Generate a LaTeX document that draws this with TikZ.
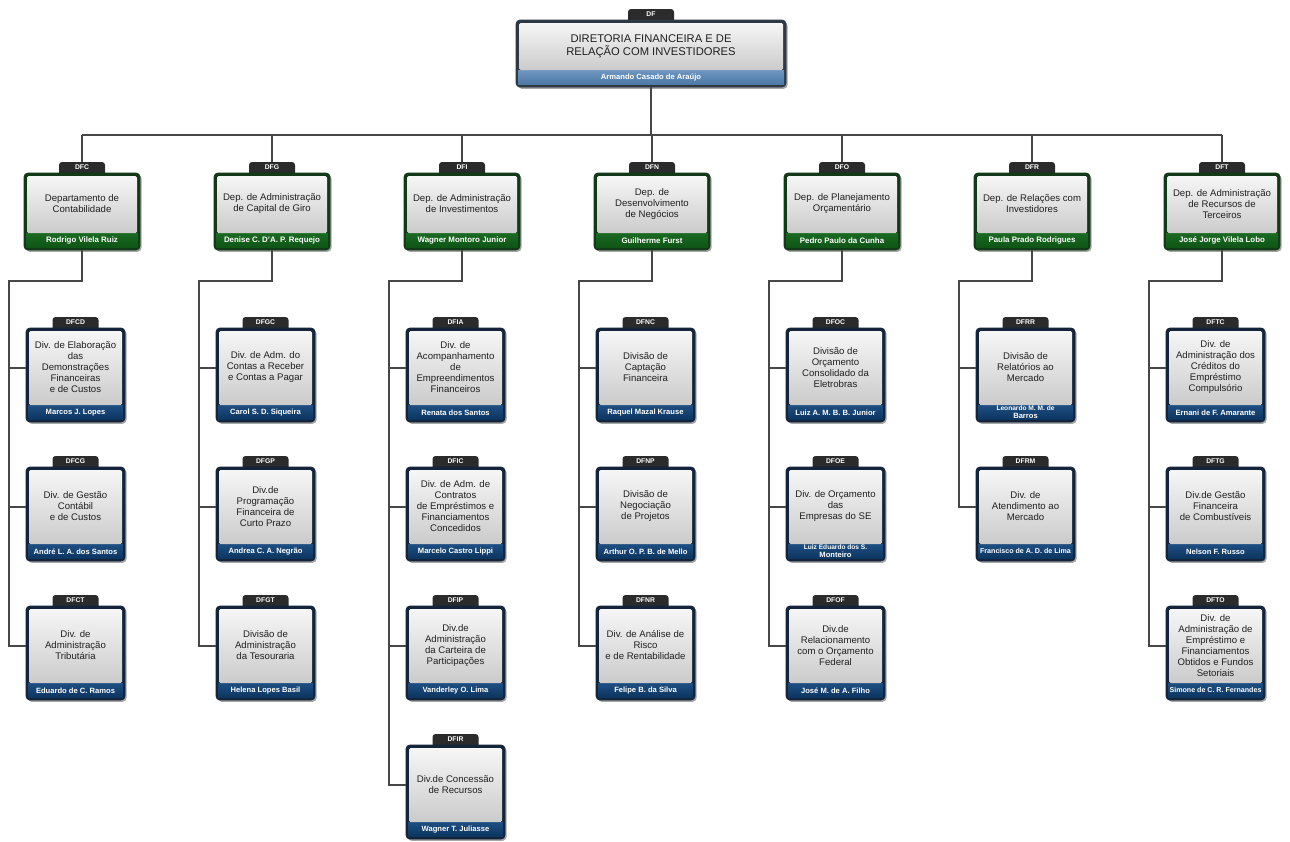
\documentclass[tikz,border=0pt]{standalone}
\usepackage{fontspec}
\setmainfont{Liberation Sans}
\usetikzlibrary{calc}
\definecolor{paneltop}{HTML}{F6F6F6}
\definecolor{panelbot}{HTML}{CBCBCB}
\definecolor{tabcol}{HTML}{2B2B2B}
\definecolor{textcol}{HTML}{202020}
\definecolor{linecol}{HTML}{474747}
\definecolor{dv-border}{HTML}{14243A}
\definecolor{dv-bandtop}{HTML}{1E4F82}
\definecolor{dv-bandbot}{HTML}{0C3560}
\definecolor{dp-border}{HTML}{133A18}
\definecolor{dp-bandtop}{HTML}{1A6A22}
\definecolor{dp-bandbot}{HTML}{0F5516}
\definecolor{tp-border}{HTML}{2E3944}
\definecolor{tp-bandtop}{HTML}{6E96C1}
\definecolor{tp-bandbot}{HTML}{4D79A6}
\tikzset{
  boxnode/.style={rectangle, draw=none, inner sep=0pt, outer sep=0pt},
  shadowfill/.style={fill=black, fill opacity=0.35},
  tablabel/.style={rectangle, inner sep=0pt, minimum width=46pt, minimum height=11pt,
    text=white, font=\bfseries\fontsize{6.8}{6.8}\selectfont},
  dv-text/.style={align=center, inner sep=0pt, text=textcol, font=\fontsize{9.6}{11}\selectfont},
  dp-text/.style={dv-text},
  tp-text/.style={align=center, inner sep=0pt, text=textcol, font=\fontsize{11.2}{13}\selectfont},
  dv-person/.style={align=center, inner sep=0pt, text=white, font=\bfseries\fontsize{7.6}{7.6}\selectfont},
  dp-person/.style={dv-person, font=\bfseries\fontsize{7.9}{7.9}\selectfont},
  tp-person/.style={dv-person},
  conn/.style={draw=linecol, line width=1.3pt},
}
% #1 name, #2 kind, #3 cx, #4 top, #5 width, #6 height, #7 tab, #8 text, #9 person
\newcommand\orgbox[9]{%
  \node[boxnode, minimum width=#5pt, minimum height=#6pt, anchor=north] (#1) at (#3,#4) {};
  \fill[shadowfill, rounded corners=4pt] ([shift={(1.6pt,-1.8pt)}]#1.south west) rectangle ([shift={(1.6pt,-1.8pt)}]#1.north east);
  \fill[tabcol, rounded corners=3pt] ([shift={(-23pt,-6pt)}]#1.north) rectangle ([shift={(23pt,11pt)}]#1.north);
  \filldraw[fill=#2-border, draw=#2-border, line width=0.8pt, rounded corners=4pt] (#1.south west) rectangle (#1.north east);
  \shade[top color=#2-bandtop, bottom color=#2-bandbot] ([shift={(2pt,2.5pt)}]#1.south west) rectangle ([shift={(-2pt,17pt)}]#1.south east);
  \shade[top color=paneltop, bottom color=panelbot, rounded corners=1.5pt] ([shift={(3pt,-3pt)}]#1.north west) rectangle ([shift={(-3pt,17pt)}]#1.south east);
  \node[tablabel] (#1-tab) at ([yshift=5.5pt]#1.north) {#7};
  \node[#2-text] (#1-text) at ([yshift=7.5pt]#1.center) {#8};
  \node[#2-person] (#1-person) at ([yshift=9.7pt]#1.south) {#9};
}
\newcommand\deptbox[5]{\orgbox{#1}{dp}{#2}{173}{116}{77}{#3}{#4}{#5}}
% #1 name, #2 cx, #3 top, #4 tab, #5 text, #6 person
\newcommand\divbox[6]{\orgbox{#1}{dv}{#2}{#3}{99}{94}{#4}{#5}{#6}%
  \coordinate (#1-in) at ([yshift=7pt]#1.west);}
\newcommand\smallname{\fontsize{6.6}{6.9}\selectfont}
\newcommand\tightname{\fontsize{7.1}{7.1}\selectfont}

\begin{document}
\begin{tikzpicture}[x=1pt, y=-1pt]
\useasboundingbox[fill=white] (0,0) rectangle (1290,841);

% top
\orgbox{df}{tp}{651}{20}{270}{67}{DF}{DIRETORIA FINANCEIRA E DE\\RELAÇÃO COM INVESTIDORES}{Armando Casado de Araújo}

% departments
\deptbox{dfc}{82}{DFC}{Departamento de\\Contabilidade}{Rodrigo Vilela Ruiz}
\deptbox{dfg}{272}{DFG}{Dep. de Administração\\de Capital de Giro}{Denise C. D'A. P. Requejo}
\deptbox{dfi}{462}{DFI}{Dep. de Administração\\de Investimentos}{Wagner Montoro Junior}
\deptbox{dfn}{652}{DFN}{Dep. de\\Desenvolvimento\\de Negócios}{Guilherme Furst}
\deptbox{dfo}{842}{DFO}{Dep. de Planejamento\\Orçamentário}{Pedro Paulo da Cunha}
\deptbox{dfr}{1032}{DFR}{Dep. de Relações com\\Investidores}{Paula Prado Rodrigues}
\deptbox{dft}{1222}{DFT}{Dep. de Administração\\de Recursos de\\Terceiros}{José Jorge Vilela Lobo}

% column 1
\divbox{dfcd}{75.5}{328}{DFCD}{Div. de Elaboração\\das\\Demonstrações\\Financeiras\\e de Custos}{Marcos J. Lopes}
\divbox{dfcg}{75.5}{467}{DFCG}{Div. de Gestão\\Contábil\\e de Custos}{André L. A. dos Santos}
\divbox{dfct}{75.5}{606}{DFCT}{Div. de\\Administração\\Tributária}{Eduardo de C. Ramos}
% column 2
\divbox{dfgc}{265.5}{328}{DFGC}{Div. de Adm. do\\Contas a Receber\\e Contas a Pagar}{Carol S. D. Siqueira}
\divbox{dfgp}{265.5}{467}{DFGP}{Div.de\\Programação\\Financeira de\\Curto Prazo}{Andrea C. A. Negrão}
\divbox{dfgt}{265.5}{606}{DFGT}{Divisão de\\Administração\\da Tesouraria}{Helena Lopes Basil}
% column 3
\divbox{dfia}{455.5}{328}{DFIA}{Div. de\\Acompanhamento\\de\\Empreendimentos\\Financeiros}{Renata dos Santos}
\divbox{dfic}{455.5}{467}{DFIC}{Div. de Adm. de\\Contratos\\de Empréstimos e\\Financiamentos\\Concedidos}{Marcelo Castro Lippi}
\divbox{dfip}{455.5}{606}{DFIP}{Div.de\\Administração\\da Carteira de\\Participações}{Vanderley O. Lima}
\divbox{dfir}{455.5}{745}{DFIR}{Div.de Concessão\\de Recursos}{Wagner T. Juliasse}
% column 4
\divbox{dfnc}{645.5}{328}{DFNC}{Divisão de\\Captação\\Financeira}{Raquel Mazal Krause}
\divbox{dfnp}{645.5}{467}{DFNP}{Divisão de\\Negociação\\de Projetos}{Arthur O. P. B. de Mello}
\divbox{dfnr}{645.5}{606}{DFNR}{Div. de Análise de\\Risco\\e de Rentabilidade}{Felipe B. da Silva}
% column 5
\divbox{dfoc}{835.5}{328}{DFOC}{Divisão de\\Orçamento\\Consolidado da\\Eletrobras}{Luiz A. M. B. B. Junior}
\divbox{dfoe}{835.5}{467}{DFOE}{Div. de Orçamento\\das\\Empresas do SE}{\smallname Luiz Eduardo dos S.\\Monteiro}
\divbox{dfof}{835.5}{606}{DFOF}{Div.de\\Relacionamento\\com o Orçamento\\Federal}{José M. de A. Filho}
% column 6
\divbox{dfrr}{1025.5}{328}{DFRR}{Divisão de\\Relatórios ao\\Mercado}{\smallname Leonardo M. M. de\\Barros}
\divbox{dfrm}{1025.5}{467}{DFRM}{Div. de\\Atendimento ao\\Mercado}{\tightname Francisco de A. D. de Lima}
% column 7
\divbox{dftc}{1215.5}{328}{DFTC}{Div. de\\Administração dos\\Créditos do\\Empréstimo\\Compulsório}{Ernani de F. Amarante}
\divbox{dftg}{1215.5}{467}{DFTG}{Div.de Gestão\\Financeira\\de Combustíveis}{Nelson F. Russo}
\divbox{dfto}{1215.5}{606}{DFTO}{Div. de\\Administração de\\Empréstimo e\\Financiamentos\\Obtidos e Fundos\\Setoriais}{\tightname Simone de C. R. Fernandes}

% bus
\coordinate (bus) at (651,135);
\draw[conn] (df.south) -- (df.south |- bus);
\draw[conn] (dfc-tab.north |- bus) -- (dft-tab.north |- bus);
\foreach \d in {dfc,dfg,dfi,dfn,dfo,dfr,dft}{
  \draw[conn] (\d-tab.north |- bus) -- (\d-tab.north);
}

% elbows
\coordinate (dfc-elbow) at (9,281);
\coordinate (dfg-elbow) at (199,281);
\coordinate (dfi-elbow) at (389,281);
\coordinate (dfn-elbow) at (579,281);
\coordinate (dfo-elbow) at (769,281);
\coordinate (dfr-elbow) at (959,281);
\coordinate (dft-elbow) at (1149,281);

\draw[conn] (dfc.south) |- (dfc-elbow) |- (dfct-in);
\draw[conn] (dfc-elbow |- dfcd-in) -- (dfcd-in);
\draw[conn] (dfc-elbow |- dfcg-in) -- (dfcg-in);

\draw[conn] (dfg.south) |- (dfg-elbow) |- (dfgt-in);
\draw[conn] (dfg-elbow |- dfgc-in) -- (dfgc-in);
\draw[conn] (dfg-elbow |- dfgp-in) -- (dfgp-in);

\draw[conn] (dfi.south) |- (dfi-elbow) |- (dfir-in);
\draw[conn] (dfi-elbow |- dfia-in) -- (dfia-in);
\draw[conn] (dfi-elbow |- dfic-in) -- (dfic-in);
\draw[conn] (dfi-elbow |- dfip-in) -- (dfip-in);

\draw[conn] (dfn.south) |- (dfn-elbow) |- (dfnr-in);
\draw[conn] (dfn-elbow |- dfnc-in) -- (dfnc-in);
\draw[conn] (dfn-elbow |- dfnp-in) -- (dfnp-in);

\draw[conn] (dfo.south) |- (dfo-elbow) |- (dfof-in);
\draw[conn] (dfo-elbow |- dfoc-in) -- (dfoc-in);
\draw[conn] (dfo-elbow |- dfoe-in) -- (dfoe-in);

\draw[conn] (dfr.south) |- (dfr-elbow) |- (dfrm-in);
\draw[conn] (dfr-elbow |- dfrr-in) -- (dfrr-in);

\draw[conn] (dft.south) |- (dft-elbow) |- (dfto-in);
\draw[conn] (dft-elbow |- dftc-in) -- (dftc-in);
\draw[conn] (dft-elbow |- dftg-in) -- (dftg-in);
\end{tikzpicture}
\end{document}
